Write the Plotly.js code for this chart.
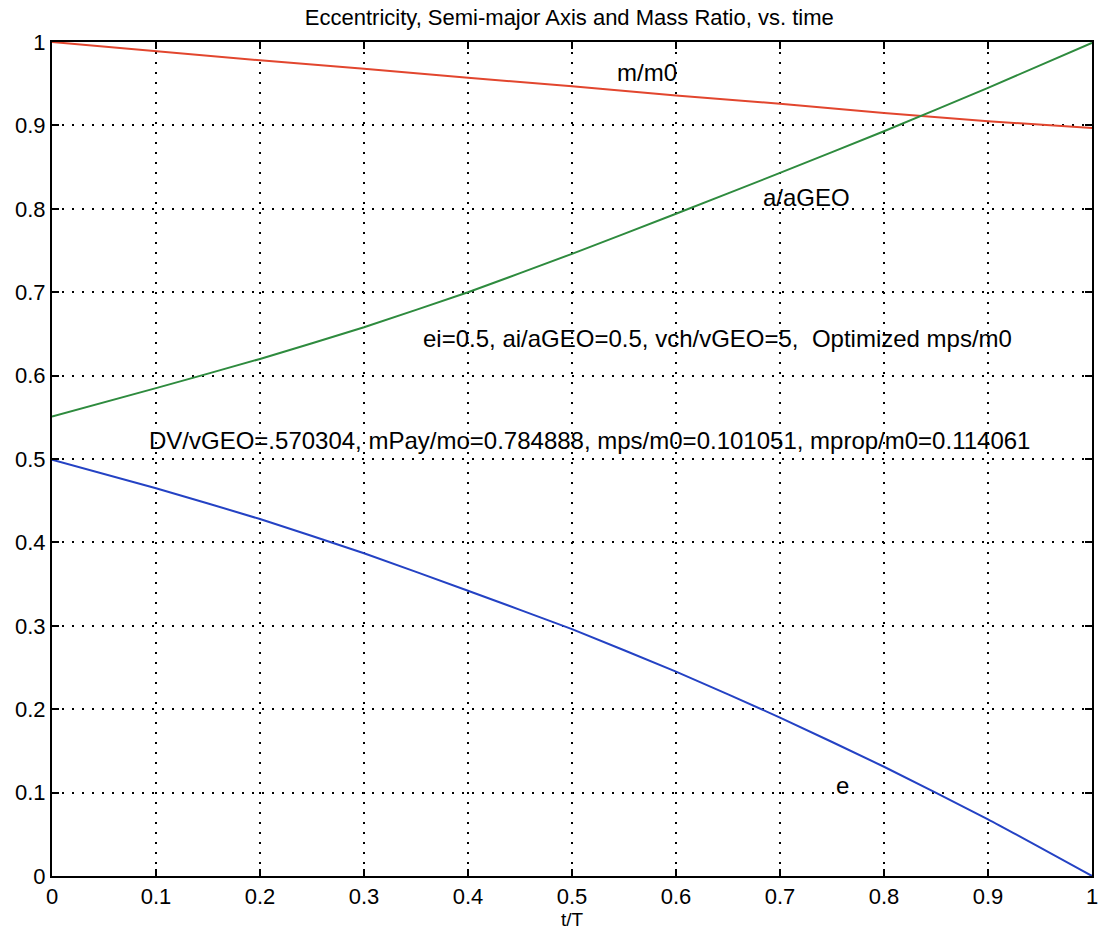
<!DOCTYPE html>
<html>
<head>
<meta charset="utf-8">
<script src="https://cdn.plot.ly/plotly-3.0.1.min.js"></script>
<style>html,body{margin:0;padding:0;background:#fff;}#chart{width:1099px;height:932px;}</style>
</head>
<body>
<div id="chart"></div>
<script>
// t/T samples
const tT = [0, 0.1, 0.2, 0.3, 0.4, 0.5, 0.6, 0.7, 0.8, 0.9, 1.0];
// mass ratio m/m0
const massRatio = [1.0, 0.989, 0.978, 0.968, 0.957, 0.947, 0.936, 0.926, 0.915, 0.905, 0.897];
// semi-major axis a/aGEO
const semiMajor = [0.551, 0.585, 0.620, 0.658, 0.700, 0.746, 0.794, 0.843, 0.893, 0.945, 0.999];
// eccentricity e
const eccentricity = [0.499, 0.465, 0.428, 0.387, 0.342, 0.296, 0.245, 0.190, 0.131, 0.068, 0.0];

const xTicks = [0, 0.1, 0.2, 0.3, 0.4, 0.5, 0.6, 0.7, 0.8, 0.9, 1];
const xTickLabels = ['0', '0.1', '0.2', '0.3', '0.4', '0.5', '0.6', '0.7', '0.8', '0.9', '1'];
const yTicks = [0, 0.1, 0.2, 0.3, 0.4, 0.5, 0.6, 0.7, 0.8, 0.9, 1];
const yTickLabels = ['0', '0.1', '0.2', '0.3', '0.4', '0.5', '0.6', '0.7', '0.8', '0.9', '1'];

const titleText = 'Eccentricity, Semi-major Axis and Mass Ratio, vs. time';
const xTitle = 't/T';
const infoLine1 = 'ei=0.5, ai/aGEO=0.5, vch/vGEO=5,  Optimized mps/m0';
const infoLine2 = 'DV/vGEO=.570304, mPay/mo=0.784888, mps/m0=0.101051, mprop/m0=0.114061';
const curveLabels = ['m/m0', 'a/aGEO', 'e'];

const font = 'Liberation Sans, Arial, sans-serif';

const traces = [
  {x: tT, y: massRatio, mode: 'lines', line: {color: '#e2462e', width: 2}, name: curveLabels[0]},
  {x: tT, y: semiMajor, mode: 'lines', line: {color: '#2e8b3e', width: 2, shape: 'spline', smoothing: 0.5}, name: curveLabels[1]},
  {x: tT, y: eccentricity, mode: 'lines', line: {color: '#2442c4', width: 2, shape: 'spline', smoothing: 0.5}, name: curveLabels[2]}
];

const axisCommon = {
  showline: true, mirror: 'ticks', linecolor: '#000', linewidth: 2,
  ticks: 'inside', ticklen: 7, tickwidth: 2, tickcolor: '#000',
  showgrid: true, gridcolor: '#000', gridwidth: 2, griddash: '2px,8px',
  zeroline: false, ticklabeloverflow: 'allow',
  tickfont: {family: font, size: 22, color: '#000'}
};

const annFont = {family: font, size: 24, color: '#000'};

const layout = {
  width: 1099, height: 932,
  margin: {l: 52, r: 7, t: 42, b: 56},
  paper_bgcolor: '#fff', plot_bgcolor: '#fff',
  showlegend: false,
  title: {text: titleText, x: 0.518, xanchor: 'center', y: 0.981, yanchor: 'middle', font: {family: font, size: 22, color: '#000'}},
  xaxis: Object.assign({}, axisCommon, {range: [0, 1], tickvals: xTicks, ticktext: xTickLabels,
    title: {text: xTitle, standoff: 0, font: {family: font, size: 19, color: '#000'}}}),
  yaxis: Object.assign({}, axisCommon, {range: [0, 1], tickvals: yTicks, ticktext: yTickLabels}),
  annotations: [
    {x: 0.572, y: 0.964, text: curveLabels[0], showarrow: false, font: annFont},
    {x: 0.725, y: 0.814, text: curveLabels[1], showarrow: false, font: annFont},
    {x: 0.760, y: 0.108, text: curveLabels[2], showarrow: false, font: annFont},
    {x: 0.640, y: 0.645, text: infoLine1, showarrow: false, font: annFont},
    {x: 0.517, y: 0.522, text: infoLine2, showarrow: false, font: annFont}
  ]
};

Plotly.newPlot('chart', traces, layout, {displayModeBar: false, staticPlot: true});
</script>
</body>
</html>
